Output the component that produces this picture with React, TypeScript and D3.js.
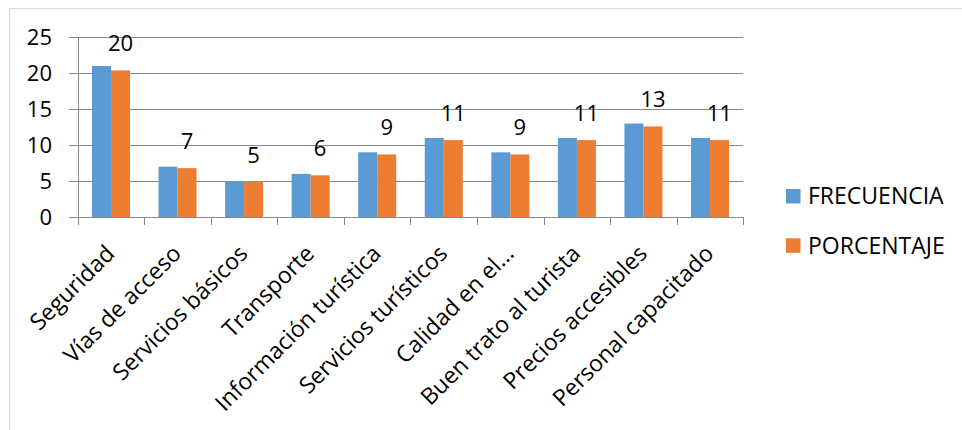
import React from "react";
import * as d3 from "d3";

const categories = [
  "Seguridad",
  "Vías de acceso",
  "Servicios básicos",
  "Transporte",
  "Información turística",
  "Servicios turísticos",
  "Calidad en el...",
  "Buen trato al turista",
  "Precios accesibles",
  "Personal capacitado",
];
const frecuencia = [21, 7, 5, 6, 9, 11, 9, 11, 13, 11];
const porcentaje = [20.4, 6.8, 4.9, 5.8, 8.7, 10.7, 8.7, 10.7, 12.6, 10.7];
const seriesNames = ["FRECUENCIA", "PORCENTAJE"];
const yTicks = [0, 5, 10, 15, 20, 25];

const COLORS = ["#5B9BD5", "#ED7D31"];
const FONT = "Open Sans, sans-serif";
const FS = 22;
const FS2 = 23;

export default function App() {
  const W = 962;
  const H = 430;
  const left = 77.7;
  const right = 743.3;
  const top = 37.3;
  const bottom = 217;

  const x = d3.scaleBand<string>().domain(categories).range([left, right]).paddingInner(0).paddingOuter(0);
  const bw = x.bandwidth() / 3.5;
  const y = d3.scaleLinear().domain([0, 25]).range([bottom, top]);
  const series = [frecuencia, porcentaje];

  return (
    <svg width={W} height={H} style={{ position: "absolute", left: 0, top: 0, background: "#fff" }}>
      <rect x={9.5} y={8.5} width={1200} height={800} fill="#fff" stroke="#D9D9D9" strokeWidth={1} />
      {yTicks.map((t) => (
        <g key={t}>
          <line x1={69} x2={right} y1={Math.round(y(t)) + 0.5} y2={Math.round(y(t)) + 0.5} stroke="#898989" strokeWidth={1} />
          <text x={52} y={y(t)} dy="0.35em" textAnchor="end" fontFamily={FONT} fontSize={FS} fill="#000">
            {t}
          </text>
        </g>
      ))}
      <line x1={Math.round(left) + 0.5} x2={Math.round(left) + 0.5} y1={top} y2={bottom} stroke="#898989" />
      {categories.map((c, i) => (
        <line key={"tk" + i} x1={Math.round(x(c)!) + 0.5} x2={Math.round(x(c)!) + 0.5} y1={bottom} y2={bottom + 8} stroke="#898989" />
      ))}
      <line x1={Math.round(right) + 0.5} x2={Math.round(right) + 0.5} y1={bottom} y2={bottom + 8} stroke="#898989" />
      {series.map((vals, s) =>
        vals.map((v, i) => {
          const bx = x(categories[i])! + bw * 0.75 + s * bw;
          return <rect key={s + "-" + i} x={bx} y={y(v)} width={bw} height={y(0) - y(v)} fill={COLORS[s]} />;
        })
      )}
      {porcentaje.map((v, i) => {
        const cx = x(categories[i])! + bw * 0.75 + bw * 1.5;
        return (
          <text key={"lb" + i} x={cx} y={y(v) - 19} textAnchor="middle" fontFamily={FONT} fontSize={FS} fill="#000">
            {d3.format(".0f")(v)}
          </text>
        );
      })}
      {categories.map((c, i) => {
        const cx = x(c)! + x.bandwidth() / 2;
        return (
          <text
            key={"cl" + i}
            transform={`translate(${cx + 5},${255}) rotate(-45)`}
            textAnchor="end"
            fontFamily={FONT}
            fontSize={FS2}
            fill="#000"
          >
            {c}
          </text>
        );
      })}
      {seriesNames.map((n, i) => (
        <g key={n} transform={`translate(786,${189 + i * 49.3})`}>
          <rect width={14.5} height={14.5} fill={COLORS[i]} />
          <text x={22} y={7.25} dy="0.35em" fontFamily={FONT} fontSize={FS2} fill="#000">
            {n}
          </text>
        </g>
      ))}
    </svg>
  );
}
